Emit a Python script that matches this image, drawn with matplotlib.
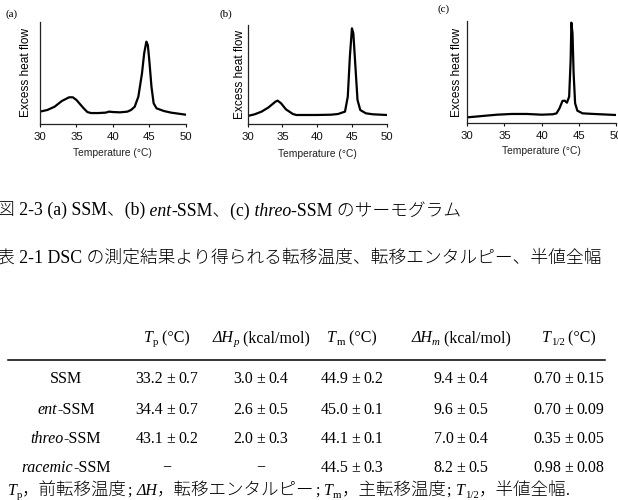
import matplotlib
matplotlib.use('Agg')
import matplotlib.pyplot as plt
from matplotlib.transforms import IdentityTransform
from matplotlib.lines import Line2D

# ---------------- data ----------------
temp_a = [30, 31, 32, 33, 34, 34.5, 35, 36, 36.5, 37, 38, 39, 39.5, 40, 41, 42, 42.5, 43,
          43.5, 44, 44.3, 44.6, 44.8, 45, 45.3, 45.6, 46, 47, 48, 49, 50]
flow_a = [12.1, 13.7, 16.9, 22.5, 26.1, 26.1, 23.5, 15.3, 11.7, 10.7, 10.7, 11.1, 12.1, 11.7,
          11.4, 12.1, 13.7, 16.9, 26.7, 49.5, 69.1, 80.5, 77.2, 62.5, 36.5, 20.2, 15.3, 12.7,
          11.1, 10.1, 9.1]

temp_b = [30, 31, 32, 33, 34, 34.3, 34.8, 35.5, 36.5, 37, 38, 40, 42, 43, 44, 44.4, 44.7, 45,
          45.2, 45.5, 45.8, 46.2, 47, 48, 50]
flow_b = [8.1, 9.8, 12.5, 16.8, 22.6, 23.6, 20.9, 14.8, 10.1, 9.1, 9.1, 9.1, 9.4, 10.1, 12.5,
          27.6, 68.0, 96.6, 91.6, 57.9, 24.2, 14.1, 10.8, 9.8, 9.1]

temp_c = [30, 32, 34, 36, 38, 40, 41.5, 42, 42.4, 42.8, 43.1, 43.4, 43.7, 43.9, 44, 44.15,
          44.3, 44.5, 44.8, 45.5, 47, 50]
flow_c = [5.8, 7.1, 8.4, 9.1, 9.1, 8.4, 8.8, 9.7, 14.6, 21.8, 22.1, 20.1, 26.0, 61.7, 98.1,
          87.7, 48.7, 19.5, 12.3, 9.7, 9.1, 8.1]

panel_labels = ['(a)', '(b)', '(c)']
x_ticks = [30, 35, 40, 45, 50]

table_rows = [
    [('SSM', '')],
    [('ent', 'i'), ('-SSM', '')],
    [('threo', 'i'), ('-SSM', '')],
    [('racemic', 'i'), ('-SSM', '')],
]
Tp = ['33.2±0.7', '34.4±0.7', '43.1±0.2', '−']
dHp = ['3.0±0.4', '2.6±0.5', '2.0±0.3', '−']
Tm = ['44.9±0.2', '45.0±0.1', '44.1±0.1', '44.5±0.3']
dHm = ['9.4±0.4', '9.6±0.5', '7.0±0.4', '8.2±0.5']
Thalf = ['0.70±0.15', '0.70±0.09', '0.35±0.05', '0.98±0.08']

# ---------------- figure ----------------
W, H = 618, 500
fig = plt.figure(figsize=(W / 100, H / 100), dpi=100)
SANS = ['Liberation Sans', 'DejaVu Sans']
SERIF = ['Liberation Serif', 'Noto Sans CJK JP', 'DejaVu Sans']


def add_ax(L, R, T, B):
    return fig.add_axes([L / W, (H - B) / H, (R - L) / W, (B - T) / H])


panels = [
    (add_ax(40, 185.7, 21.7, 124), temp_a, flow_a, 6, 4.5, (5, 14)),
    (add_ax(247.7, 386.7, 25, 124), temp_b, flow_b, 1.5, 5, (220, 14)),
    (add_ax(467.3, 616, 20.7, 123.3), temp_c, flow_c, 3, 3.5, (437, 9)),
]
for (ax, tx, fy, ypad, xpad, lab_pos), lab in zip(panels, panel_labels):
    ax.plot(tx, fy, color='black', lw=1.6, solid_joinstyle='round')
    ax.set_xlim(30, 50)
    ax.set_ylim(0, 100)
    for s in ['top', 'right']:
        ax.spines[s].set_visible(False)
    for s in ['left', 'bottom']:
        ax.spines[s].set_linewidth(0.9)
        ax.spines[s].set_color('#222222')
    ax.set_yticks([])
    ax.set_xticks(x_ticks)
    ax.tick_params(axis='x', length=2.5, width=0.8, pad=3.2, labelsize=8.2, colors='#111111')
    for t in ax.get_xticklabels():
        t.set_family(SANS)
    ax.set_ylabel('Excess heat flow', fontsize=8.6, family=SANS, labelpad=ypad)
    ax.set_xlabel('Temperature (°C)', fontsize=7.4, family=SANS, labelpad=xpad, color='#222222')
    ax.patch.set_alpha(0)
    fig.text(lab_pos[0], H - lab_pos[1], lab, transform=IdentityTransform(),
             fontsize=8, family=SERIF, va='center', ha='left')

# ---------------- text helper ----------------
renderer = fig.canvas.get_renderer()


def draw_runs(x, y, parts, size, ha='left', cjk=None):
    """Draw styled runs; y is baseline in pixels from top."""
    items = []
    for s, st in parts:
        sub = 's' in st
        fs = size * 0.68 if sub else size
        if 'c' in st and cjk:
            fs = cjk
        t = fig.text(0, 0, s, fontsize=fs, style='italic' if 'i' in st else 'normal',
                     family=SERIF, weight='light', transform=IdentityTransform(),
                     va='baseline', ha='left')
        w = t.get_window_extent(renderer).width
        pad = size * 100 / 72 * 0.2 if 'g' in st else 0
        rpad = size * 100 / 72 * 0.3 if 'r' in st else 0
        items.append((t, w, sub, pad, rpad))
    total = sum(w + 2 * p + r for _, w, _, p, r in items)
    x0 = x - total / 2 if ha == 'center' else x
    for t, w, sub, pad, rpad in items:
        dy = -size * 100 / 72 * 0.17 if sub else 0
        t.set_position((x0 + pad, H - y + dy))
        x0 += w + 2 * pad + rpad


def value_parts(v):
    if '±' in v:
        a, b = v.split('±')
        return [(a, ''), ('±', 'g'), (b, '')]
    return [(v, '')]


CAP = 12.8
TAB = 11.5

draw_runs(-3, 216, [('図 2-3 (a) SSM、(b)', ''), (' ent', 'i'), ('-SSM、(c)', ''),
                    (' threo', 'i'), ('-SSM のサーモグラム', '')], CAP)
draw_runs(-3, 263, [('表 2-1 DSC の測定結果より得られる転移温度、転移エンタルピー、半値全幅', '')], CAP)

col_x = [66, 167, 261, 352, 461, 569]
header = [
    [('T', 'i'), ('p', 's'), (' (°C)', '')],
    [('ΔH', 'i'), ('p', 'is'), (' (kcal/mol)', '')],
    [('T', 'i'), ('m', 's'), (' (°C)', '')],
    [('ΔH', 'i'), ('m', 'is'), (' (kcal/mol)', '')],
    [('T', 'i'), ('1/2', 's'), (' (°C)', '')],
]
for cx, parts in zip(col_x[1:], header):
    draw_runs(cx, 342, parts, TAB, ha='center')

fig.add_artist(Line2D([8, 605], [H - 359.5, H - 359.5], transform=IdentityTransform(),
                      color='black', lw=1.1))

row_base = [383, 414, 443, 472]
for i, yb in enumerate(row_base):
    draw_runs(col_x[0], yb, table_rows[i], TAB, ha='center')
    for cx, col in zip(col_x[1:], [Tp, dHp, Tm, dHm, Thalf]):
        draw_runs(cx, yb, value_parts(col[i]), TAB, ha='center')

draw_runs(8, 495, [('T', 'i'), ('p', 's'), ('，前転移温度', 'c'), (';', 'r'), ('ΔH', 'i'),
                   ('，転移エンタルピー', 'c'), (';', 'r'), ('T', 'i'), ('m', 's'),
                   ('，主転移温度', 'c'), (';', 'r'), ('T', 'i'), ('1/2', 's'),
                   ('，半値全幅', 'c'), ('.', '')], TAB, cjk=12.6)

fig.savefig('out.png', dpi=100)
